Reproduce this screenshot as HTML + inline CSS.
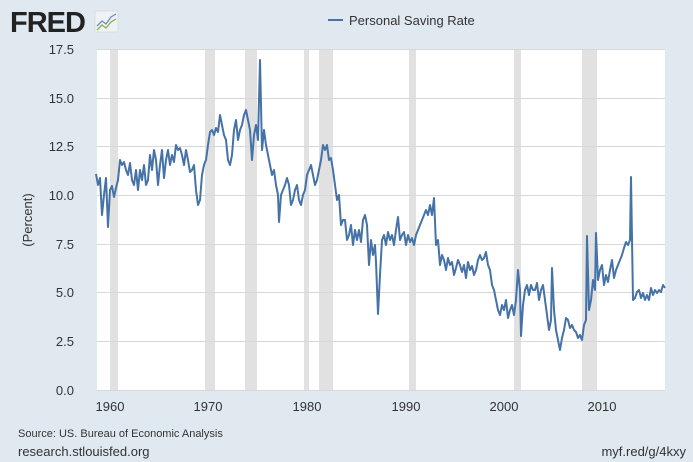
<!DOCTYPE html><html><head><style>body{margin:0;background:#e1e9f0;}svg{display:block}text{font-family:"Liberation Sans",sans-serif;}</style></head><body>
<svg width="693" height="462" xmlns="http://www.w3.org/2000/svg">
<rect width="693" height="462" fill="#e1e9f0"/>
<text x="10" y="32" font-size="29" font-weight="bold" fill="#222" letter-spacing="-1">FRED</text>
<rect x="95" y="11" width="23" height="21" fill="#eef2f4" stroke="#ccc" stroke-width="0.5"/>
<polyline points="97,26 102,21 106,24 111,17 116,14" fill="none" stroke="#6a8fbf" stroke-width="1.3"/>
<polyline points="97,30 102,25 106,28 111,22 116,19" fill="none" stroke="#8ab04a" stroke-width="1.3"/>
<line x1="328" y1="20" x2="343" y2="20" stroke="#4572a7" stroke-width="2"/>
<text x="349" y="25" font-size="13" fill="#333">Personal Saving Rate</text>
<rect x="97" y="49" width="568" height="341" fill="#fff"/>
<g fill="#e1e1e1">
<rect x="110" y="49" width="8" height="341"/><rect x="205" y="49" width="10" height="341"/><rect x="245" y="49" width="12" height="341"/><rect x="304" y="49" width="5" height="341"/><rect x="319" y="49" width="14" height="341"/><rect x="409" y="49" width="7" height="341"/><rect x="514" y="49" width="7" height="341"/><rect x="582" y="49" width="15" height="341"/>
</g>
<g stroke="#d8d8d8" stroke-width="1">
<line x1="97" x2="665" y1="49.5" y2="49.5"/><line x1="97" x2="665" y1="98.5" y2="98.5"/><line x1="97" x2="665" y1="146.5" y2="146.5"/><line x1="97" x2="665" y1="195.5" y2="195.5"/><line x1="97" x2="665" y1="244.5" y2="244.5"/><line x1="97" x2="665" y1="292.5" y2="292.5"/><line x1="97" x2="665" y1="341.5" y2="341.5"/><line x1="97" x2="665" y1="390.5" y2="390.5"/>
</g>
<g font-size="13" fill="#333" text-anchor="end">
<text x="74" y="54">17.5</text><text x="74" y="103">15.0</text><text x="74" y="151">12.5</text><text x="74" y="200">10.0</text><text x="74" y="249">7.5</text><text x="74" y="297">5.0</text><text x="74" y="346">2.5</text><text x="74" y="395">0.0</text>
</g>
<g font-size="13" fill="#333" text-anchor="middle">
<text x="110" y="411">1960</text><text x="208" y="411">1970</text><text x="307" y="411">1980</text><text x="406" y="411">1990</text><text x="504" y="411">2000</text><text x="602" y="411">2010</text>
</g>
<text transform="translate(32,220) rotate(-90)" font-size="13" fill="#333" text-anchor="middle">(Percent)</text>
<polyline fill="none" stroke="#4572a7" stroke-width="2" stroke-linejoin="round" points="96,174 98,185 100,178 102,215 104,195 106,178 108,227 110,190 112,186 114,197 116,188 118,180 120,160 122,165 124,162 126,170 128,175 130,163 132,180 134,185 136,170 138,190 140,170 142,180 144,165 146,185 148,180 150,155 152,170 154,150 156,160 158,185 160,165 162,150 164,178 166,160 168,150 170,165 172,155 174,162 176,145 178,150 180,148 182,155 184,165 186,150 188,160 190,172 192,170 194,165 196,190 198,205 200,200 202,175 204,165 206,160 208,145 210,132 212,130 214,135 216,128 218,132 220,115 222,125 224,135 226,140 228,160 230,165 232,155 234,130 236,120 238,140 240,130 242,125 244,115 246,110 248,120 250,130 252,160 254,135 256,125 258,140 260,60 262,150 264,130 266,145 268,155 270,165 272,175 274,170 276,185 278,195 279,222 281,195 283,190 285,185 287,178 289,185 291,205 293,200 295,190 297,185 299,200 301,205 303,195 305,190 307,175 309,170 311,165 313,175 315,185 317,180 319,170 321,160 323,145 325,150 327,145 329,160 331,158 333,170 335,185 337,200 339,195 341,225 343,220 345,220 347,240 349,235 351,225 353,245 355,230 357,240 359,230 361,242 363,220 365,215 367,225 369,265 371,240 373,255 375,245 376,262 378,314 380,275 382,240 384,235 386,245 388,232 390,240 392,235 394,245 396,230 398,217 400,240 402,235 404,232 406,245 408,235 410,242 412,238 414,245 416,235 418,230 420,225 422,220 424,215 426,210 428,215 430,205 432,215 434,198 436,245 438,240 440,265 442,255 444,260 446,270 448,258 450,265 452,262 454,275 456,268 458,260 460,265 462,272 464,265 466,278 468,262 470,270 472,266 474,275 476,270 478,260 480,255 482,260 484,258 486,252 488,265 490,270 492,285 494,290 496,300 498,310 500,315 502,305 504,310 506,300 508,318 510,310 512,305 514,315 516,300 518,270 520,290 521,336 523,305 525,290 527,285 529,295 531,285 533,290 535,290 537,283 539,300 541,290 543,285 545,300 547,315 549,330 551,320 552,268 554,310 556,330 558,340 560,350 562,338 564,330 566,318 568,320 570,328 572,325 574,330 576,332 578,338 580,335 582,340 584,325 586,320 587,236 589,310 591,300 593,280 595,290 596,233 598,280 600,270 602,265 604,285 606,275 608,282 610,270 612,260 614,278 616,270 618,265 620,260 622,255 624,248 626,242 628,245 630,240 631,177 633,300 635,298 637,292 639,290 641,298 643,293 645,300 647,295 649,300 651,288 653,295 655,290 657,293 659,290 661,292 663,285 665,288"/>
<text x="18" y="437" font-size="11" fill="#333">Source: US. Bureau of Economic Analysis</text>
<text x="18" y="456" font-size="13" fill="#333">research.stlouisfed.org</text>
<text x="686" y="456" font-size="13" fill="#333" text-anchor="end">myf.red/g/4kxy</text>
</svg></body></html>
